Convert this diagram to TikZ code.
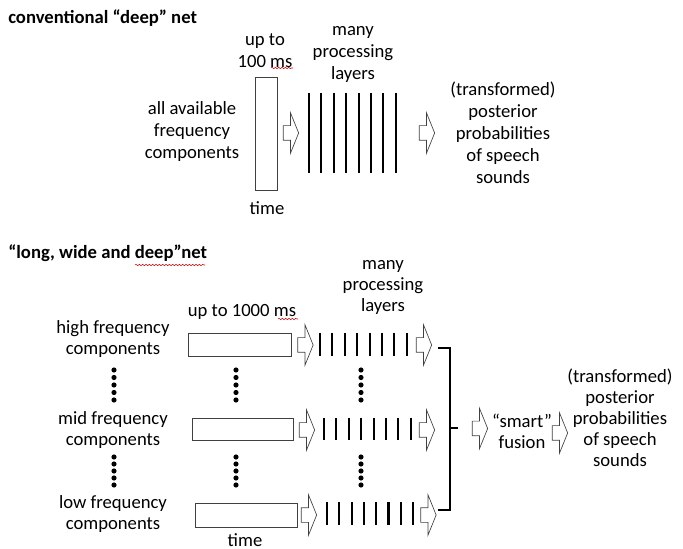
\documentclass[tikz,border=0pt]{standalone}
\usepackage{fontspec}
\setmainfont{Carlito}
\usepackage{tikz}
\usetikzlibrary{shapes.arrows, decorations.pathmorphing}
\tikzstyle{txt} = [inner sep=0pt, align=center, font=\fontsize{14}{16.5}\selectfont]
\tikzstyle{txtb} = [txt, font=\fontsize{14}{15.75}\selectfont]
\tikzstyle{head} = [inner sep=0pt, anchor=west, font=\fontsize{14}{16}\selectfont\bfseries]
\tikzstyle{frame} = [draw=black!75, line width=0.6pt, inner sep=0pt]
\tikzstyle{fat} = [single arrow, draw=black!75, line width=0.5pt, inner xsep=0pt, inner ysep=5.25pt, minimum height=11.5pt, single arrow head extend=9.75pt, single arrow tip angle=136]
\tikzstyle{layer} = [line width=1.6pt]
\tikzstyle{wavy} = [red!80!black, line width=0.4pt, decorate, decoration={snake, amplitude=0.5pt, segment length=2.5pt}]

\begin{document}
\begin{tikzpicture}[x=0.75pt, y=-0.75pt]
    \useasboundingbox (0,0) rectangle (683,549);

    % conventional net
    \node[head] (title1) at (8,18) {conventional “deep” net};
    \node[txt] (upto1) at (265,51) {up to\\100 ms};
    \node[frame, minimum width=16.5pt, minimum height=84.75pt] (win1) at (266,133.5) {};
    \node[txt] (freq1) at (192,132) {all available\\frequency\\components};
    \node[txt] (time1) at (267,208) {time};
    \node[fat] (a1) at (289.5,133) {};
    \foreach \i in {0,...,7}
        \draw[layer] (309+12.4*\i,93) -- (309+12.4*\i,173);
    \node[txt] (many1) at (353,54) {many\\processing\\layers};
    \node[fat] (a2) at (425.5,133) {};
    \node[txt] (post1) at (503,132.5) {(transformed)\\posterior\\probabilities\\of speech\\sounds};
    \draw[wavy] (271,68) -- (293,68);

    % long, wide and deep net
    \node[head] (title2) at (8,253) {“long, wide and deep”net};
    \draw[wavy] (135,265) -- (205,265);
    \node[txtb] (many2) at (383,287) {many\\processing\\layers};
    \node[txtb] (upto2) at (242,312) {up to 1000 ms};
    \draw[wavy] (278,319) -- (298,319);

    \node[txtb] (hi) at (113,339.5) {high frequency\\components};
    \node[txtb] (mid) at (113,430) {mid frequency\\components};
    \node[txtb] (low) at (113,514) {low frequency\\components};
    \node[txt] (time2) at (245,540) {time};

    \node[frame, minimum width=77.25pt, minimum height=17.25pt] (winhi) at (239.5,344.5) {};
    \node[frame, minimum width=75.75pt, minimum height=16.5pt] (winmid) at (242.5,429) {};
    \node[frame, minimum width=76.5pt, minimum height=18pt] (winlow) at (246,515) {};

    \node[fat] (hi1) at (304,345) {};
    \node[fat] (mid1) at (305.5,430) {};
    \node[fat] (low1) at (307.5,515) {};

    \foreach \i in {0,...,7} {
        \draw[layer] (320+12.4*\i,333) -- (320+12.4*\i,356);
        \draw[layer] (324+12.4*\i,418) -- (324+12.4*\i,440);
        \draw[layer] (327+12.3*\i,502) -- (327+12.3*\i,525);
    }

    \node[fat] (hi2) at (422.5,345) {};
    \node[fat] (mid2) at (425.5,430) {};
    \node[fat] (low2) at (427,515) {};

    % dots
    \foreach \x in {114,236,361}
        \foreach \k in {0,...,4} {
            \fill (\x,370+7.5*\k) circle (2.6);
            \fill (\x,457+7*\k) circle (2.6);
        }

    % bracket
    \draw[line width=1.5pt] (438,348) -- (450,348) -- (450,510) -- (438,510);
    \draw[line width=1.5pt] (450,428) -- (458,428);

    \node[fat] (f1) at (478.5,428.5) {};
    \node[txtb] (smart) at (522,431) {“smart”\\fusion};
    \node[fat] (f2) at (558.5,433) {};
    \node[txtb] (post2) at (620,417.5) {(transformed)\\posterior\\probabilities\\of speech\\sounds};
\end{tikzpicture}
\end{document}
